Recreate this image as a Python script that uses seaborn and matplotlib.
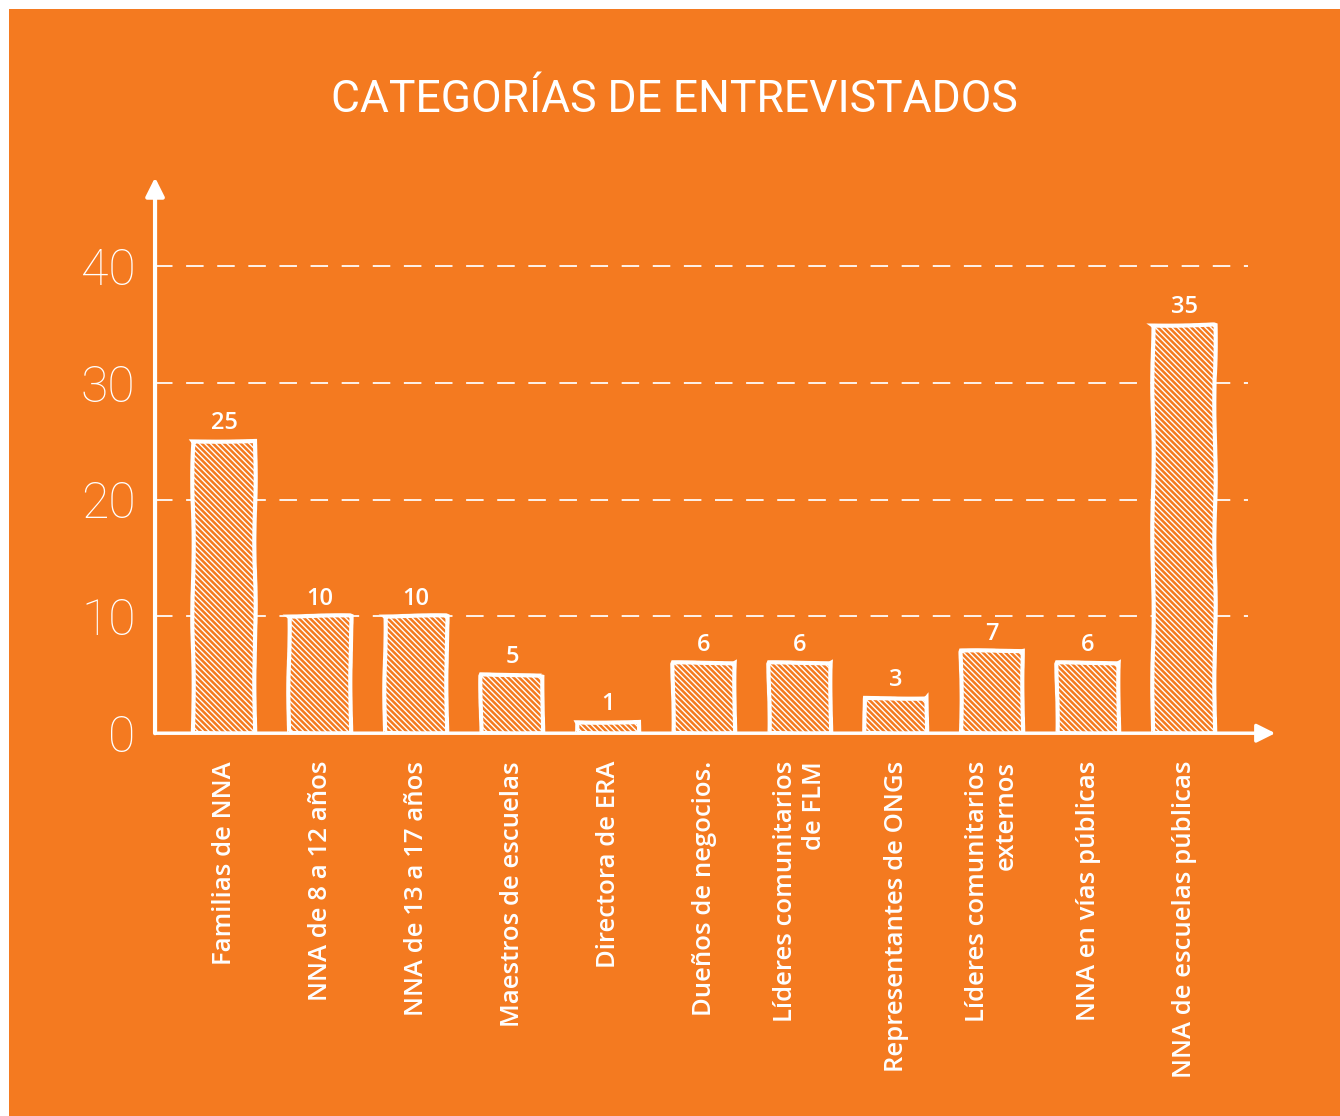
import matplotlib
matplotlib.use("Agg")
import matplotlib.pyplot as plt
import seaborn as sns

categorias = ["Familias de NNA", "NNA de 8 a 12 años", "NNA de 13 a 17 años",
              "Maestros de escuelas", "Directora de ERA", "Dueños de negocios.",
              "Líderes comunitarios\nde FLM", "Representantes de ONGs",
              "Líderes comunitarios\nexternos", "NNA en vías públicas",
              "NNA de escuelas públicas"]
entrevistados = [25, 10, 10, 5, 1, 6, 6, 3, 7, 6, 35]
yticks = [0, 10, 20, 30, 40]
titulo = "CATEGORÍAS DE ENTREVISTADOS"

ORANGE = "#F47A20"
NARROW = ["Roboto", "DejaVu Sans"]
LABEL = ["Open Sans", "DejaVu Sans"]


def main():
    sns.set_theme(style="white")
    plt.rcParams["hatch.color"] = "white"
    plt.rcParams["hatch.linewidth"] = 1.0

    fig = plt.figure(figsize=(13.4, 11.16), dpi=100, facecolor="white")
    # orange card, white strip left and top
    fig.patches.append(plt.Rectangle((9 / 1340, 0), 1, 1 - 9 / 1116,
                                     transform=fig.transFigure,
                                     facecolor=ORANGE, edgecolor="none",
                                     zorder=-5))
    ax = fig.add_axes([0.1157, 0.343, 0.836, 0.498])
    ax.set_facecolor("none")

    sns.barplot(x=categorias, y=entrevistados, ax=ax, color=ORANGE,
                width=0.65, edgecolor="white", linewidth=3,
                hatch="\\\\\\\\\\\\", saturation=1)
    for bar in ax.patches:
        bar.set_sketch_params(scale=0.7, length=200, randomness=4)

    for i, v in enumerate(entrevistados):
        ax.text(i, v + 0.5, str(v), ha="center", va="bottom",
                color="white", fontsize=17, fontweight="semibold",
                family=LABEL)

    for y in yticks[1:]:
        ax.axhline(y, xmin=0, xmax=0.976, color="white", lw=1.4,
                   dashes=(9, 7), alpha=0.9, zorder=0.5)

    ax.set_xlim(-0.72, 10.95)
    ax.set_ylim(0, 47.6)
    for s in ax.spines.values():
        s.set_visible(False)

    # axes drawn as arrows
    ax.annotate("", xy=(0, 1), xytext=(0, 0), xycoords="axes fraction",
                arrowprops=dict(arrowstyle="-|>", color="white", lw=3,
                                mutation_scale=28, shrinkA=0, shrinkB=0))
    ax.annotate("", xy=(1, 0), xytext=(0, 0), xycoords="axes fraction",
                arrowprops=dict(arrowstyle="-|>", color="white", lw=2.5,
                                mutation_scale=28, shrinkA=0, shrinkB=0))

    ax.set_yticks(yticks)
    ax.set_yticklabels([str(t) for t in yticks], family=NARROW,
                       fontweight="light", fontsize=36, color="white")
    ax.tick_params(axis="y", length=0, pad=14)
    ax.set_xticks(range(len(categorias)))
    ax.set_xticklabels(categorias, rotation=90, ha="center", va="top",
                       multialignment="right", family=LABEL, fontsize=18.5,
                       fontweight="semibold", color="white")
    ax.tick_params(axis="x", length=0, pad=20)
    ax.set_xlabel("")
    ax.set_ylabel("")

    fig.text(0.503, 0.91, titulo, ha="center", va="center", color="white",
             fontsize=32, family=NARROW)

    plt.savefig("out.png", facecolor=fig.get_facecolor())
    plt.close()


if __name__ == "__main__":
    main()
